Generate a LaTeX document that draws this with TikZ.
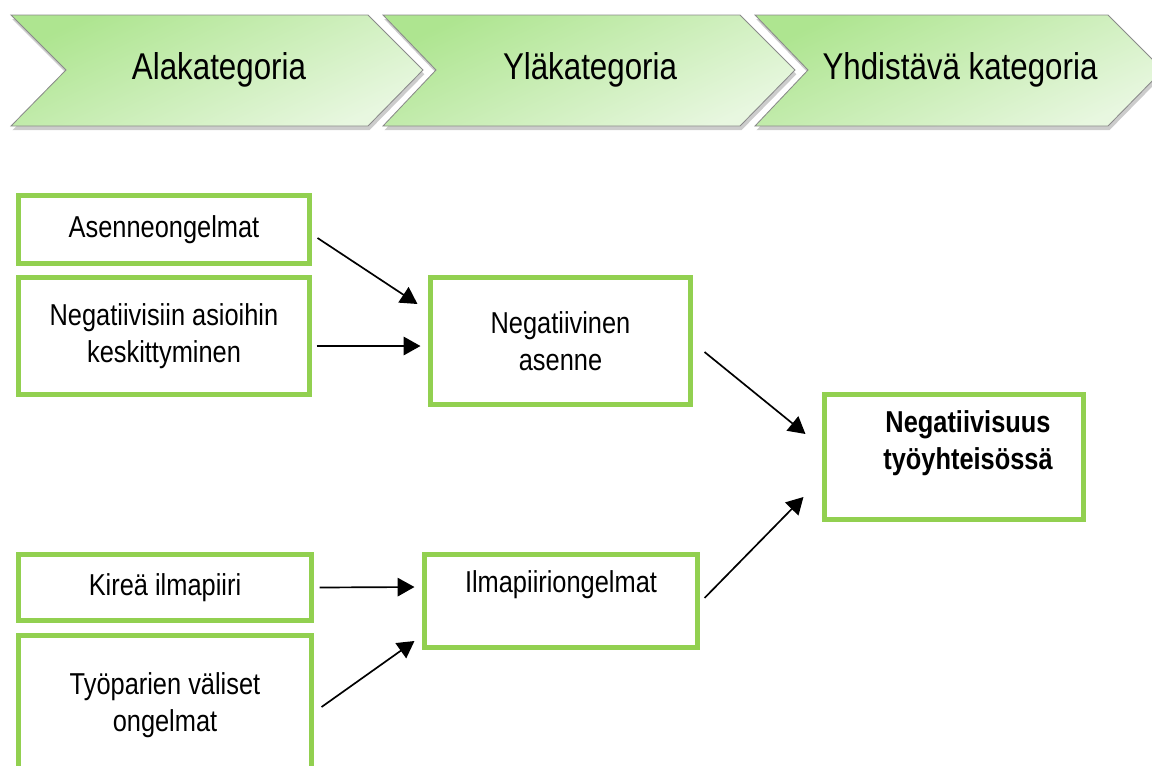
\documentclass[tikz,border=0pt]{standalone}
\usepackage{fontspec}
\setmainfont[FakeStretch=0.84]{Liberation Sans}
\usetikzlibrary{arrows.meta,shadows}
\definecolor{boxgreen}{HTML}{92D050}
\definecolor{chevtop}{HTML}{AEE590}
\definecolor{chevbot}{HTML}{E8F7E0}
\definecolor{chevline}{HTML}{8A8A8A}
\tikzset{catbox/.style={draw=boxgreen, line width=0.125cm, inner sep=0pt,
   font=\fontsize{21.5}{26.3}\selectfont, align=center},
 cattext/.style={font=\fontsize{21.5}{26.3}\selectfont, align=center, inner sep=0pt},
 chev/.style={draw=chevline, line width=0.6pt, top color=chevtop, bottom color=chevbot,
   shading angle=25, drop shadow={shadow xshift=1pt, shadow yshift=-3pt, opacity=0.4}},
 chevtext/.style={font=\fontsize{26.5}{30}\selectfont, inner sep=0pt},
 arr/.style={-{Triangle[length=0.42cm,width=0.46cm]}, line width=1.2pt},
 }

\begin{document}
\begin{tikzpicture}[x=0.025cm, y=-0.025cm]
    \useasboundingbox (0,0) rectangle (1152,765);
    \clip (0,0) rectangle (1152,765);

    % phases on top
    \path[chev] (11,15) -- (368,15) -- (423,70) -- (368,126) -- (11,126) -- (66,70) -- cycle;
    \path[chev] (383,15) -- (740,15) -- (795,70) -- (740,126) -- (383,126) -- (436,70) -- cycle;
    \path[chev] (755,15) -- (1108,15) -- (1163,70) -- (1108,126) -- (755,126) -- (808,70) -- cycle;
    \node[chevtext] (cat1) at (219,70) {Alakategoria};
    \node[chevtext] (cat2) at (590,70) {Yläkategoria};
    \node[chevtext] (cat3) at (960,70) {Yhdistävä kategoria};

    % sub categories
    \node[catbox, minimum width=7.275cm, minimum height=1.7cm] (ase) at (164,229.5) {Asenneongelmat};
    \node[catbox, minimum width=7.275cm, minimum height=2.925cm] (neg) at (164,336) {Negatiivisiin asioihin\\keskittyminen};
    \node[catbox, minimum width=7.325cm, minimum height=1.65cm] (kir) at (165,587.5) {Kireä ilmapiiri};
    \node[catbox, minimum width=7.325cm, minimum height=3.475cm] (tyo) at (165,705) {Työparien väliset\\ongelmat};

    % upper categories
    \node[catbox, minimum width=6.5cm, minimum height=3.175cm] (asen) at (560.5,341) {Negatiivinen\\asenne};
    \node[catbox, minimum width=6.825cm, minimum height=2.325cm] (ilm) at (561,601) {};
    \node[cattext] (ilmtext) at (561,585) {Ilmapiiriongelmat};

    % combining category
    \node[catbox, minimum width=6.475cm, minimum height=3.125cm] (nty) at (954,457) {};
    \node[cattext, font=\fontsize{21.5}{26.3}\selectfont\bfseries] (ntytext) at (968,443) {Negatiivisuus\\työyhteisössä};

    \draw[arr] ([shift={(5.5,8.5)}]ase.east) -- ([shift={(-10.5,-37)}]asen.west);
    \draw[arr] ([shift={(4.5,10)}]neg.east) -- ([shift={(-7.5,5)}]asen.west);
    \draw[arr] ([shift={(5.5,0)}]kir.east) -- ([shift={(-7.5,-14)}]ilm.west);
    \draw[arr] ([shift={(7.5,2)}]tyo.east) -- ([shift={(-7.5,40)}]ilm.west);
    \draw[arr] ([shift={(11.5,11)}]asen.east) -- ([shift={(-16.5,-23)}]nty.west);
    \draw[arr] ([shift={(4.5,-3)}]ilm.east) -- ([shift={(-18.5,40)}]nty.west);
\end{tikzpicture}
\end{document}
